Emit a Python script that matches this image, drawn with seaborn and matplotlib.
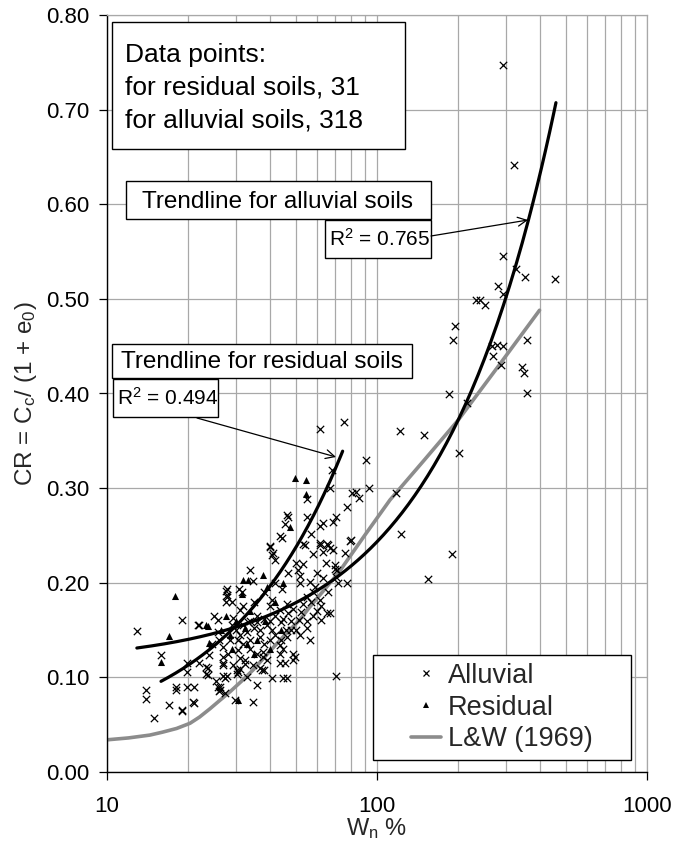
import numpy as np
import pandas as pd
import matplotlib
matplotlib.use("Agg")
import matplotlib.pyplot as plt
from matplotlib.patches import Rectangle
from matplotlib.lines import Line2D
from matplotlib.ticker import LogLocator, FixedLocator, NullFormatter
import seaborn as sns

# ---------------- data ----------------
alluvial_wn = [
    292, 321, 293, 327, 352, 458, 281, 292, 233, 240, 252, 195, 192, 358, 266, 278,
    292, 268, 287, 344, 350, 358, 184, 216, 122, 149, 201, 118, 190, 155, 123,
    90.8, 75.5, 61.5, 93.6, 81, 83.6, 86, 77.7, 70.5, 68.8, 79.5, 68.8, 76, 77.7,
    69.9, 70.9, 67, 67.9, 67, 55.1, 55, 46.9, 45.6, 43.8, 40.3, 61.5, 63.2, 57,
    53.3, 61.5, 65.7, 79.8, 70.5, 67,
    12.95, 18.9, 15.85, 21.9, 25.8, 27.6, 27.6, 13.9, 13.9, 14.9, 16.9, 18.9, 18.9,
    18.0, 18.0, 19.8, 21.0, 20.9, 21.0, 23.3, 23.7, 19.8, 19.8, 26.2, 26.2, 27.4,
    27.4, 21.8, 22, 23.9, 23.3, 23.6, 25.3, 25.8, 26, 25.8, 27, 27, 27, 27.8, 27.8,
    29.8, 30.9, 33.8, 40.1, 41.3, 41.9, 44.3, 46.5, 34.8, 35.9, 40.8, 45, 46.3,
    43.8, 48.9, 49.5, 36.8, 37.5, 30.2, 30.6, 30.2, 31, 32.5, 38, 45.6, 27, 27, 27.8,
    41, 34.8, 27.9, 31.5, 50.1, 50.8, 51.8, 54, 61.5, 65.3, 63.2, 65, 69.9, 70.5,
    44.3, 51.8, 56.6, 59, 61.5, 57.2, 65.3, 62.2, 52.5, 51.2, 48.2, 46.3, 43.8, 43.8,
    48.9, 37.9, 37.9, 40.3, 41, 43.8, 46.3, 31, 29.3, 33.2, 35.9, 33.8, 36.8, 28.5,
    30.6, 32.5, 29.3, 34.8, 54.9, 56.6,
    30, 31, 32, 33, 34, 35, 36, 37, 38, 39, 40, 41, 42, 44, 45, 47, 49, 53, 55, 58,
    60, 63, 66, 72, 29, 30.5, 32, 34, 36, 38, 40, 42, 44, 46, 48, 50, 52, 55, 58, 62,
    31, 33, 39, 45, 28, 26, 24.5, 25, 29, 32, 35, 38, 42, 47, 53, 58, 60,
]
alluvial_cr = [
    0.747, 0.641, 0.545, 0.532, 0.523, 0.521, 0.514, 0.505, 0.499, 0.499, 0.494, 0.471,
    0.457, 0.457, 0.450, 0.451, 0.450, 0.440, 0.430, 0.428, 0.422, 0.400, 0.399, 0.390,
    0.360, 0.356, 0.337, 0.295, 0.230, 0.204, 0.251,
    0.330, 0.370, 0.363, 0.300, 0.295, 0.296, 0.290, 0.280, 0.270, 0.264, 0.244, 0.235,
    0.231, 0.200, 0.219, 0.214, 0.168, 0.319, 0.300, 0.289, 0.270, 0.270, 0.262, 0.249,
    0.239, 0.260, 0.263, 0.251, 0.241, 0.240, 0.240, 0.245, 0.101, 0.237,
    0.149, 0.161, 0.124, 0.155, 0.161, 0.191, 0.180, 0.087, 0.077, 0.057, 0.071, 0.064,
    0.066, 0.090, 0.087, 0.090, 0.090, 0.074, 0.073, 0.104, 0.110, 0.106, 0.115, 0.087,
    0.090, 0.099, 0.083, 0.155, 0.115, 0.124, 0.111, 0.103, 0.096, 0.090, 0.086, 0.148,
    0.132, 0.122, 0.115, 0.193, 0.187, 0.076, 0.193, 0.214, 0.238, 0.231, 0.224, 0.247,
    0.272, 0.074, 0.092, 0.099, 0.099, 0.099, 0.125, 0.125, 0.122, 0.110, 0.108, 0.108,
    0.106, 0.104, 0.109, 0.114, 0.108, 0.115, 0.113, 0.101, 0.101,
    0.229, 0.202, 0.185, 0.190, 0.221, 0.214, 0.207, 0.240, 0.242, 0.241, 0.232, 0.221,
    0.215, 0.206, 0.193, 0.200, 0.201, 0.196, 0.182, 0.180, 0.168, 0.161, 0.169, 0.161,
    0.150, 0.143, 0.134, 0.115, 0.118, 0.127, 0.122, 0.175, 0.182, 0.171, 0.178, 0.171,
    0.163, 0.159, 0.165, 0.140, 0.143, 0.140, 0.129, 0.118, 0.113, 0.113, 0.152, 0.140,
    0.150, 0.145, 0.155, 0.148, 0.160, 0.152, 0.158, 0.150, 0.162, 0.155, 0.160, 0.150,
    0.165, 0.158, 0.162, 0.168, 0.172, 0.178, 0.185, 0.190, 0.170, 0.205, 0.190, 0.200,
    0.155, 0.140, 0.135, 0.130, 0.125, 0.135, 0.140, 0.145, 0.140, 0.150, 0.160, 0.150,
    0.145, 0.160, 0.165, 0.175, 0.120, 0.100, 0.118, 0.130, 0.125, 0.140, 0.135, 0.165,
    0.180, 0.175, 0.180, 0.190, 0.200, 0.210, 0.220, 0.230, 0.210,
]
residual_wn = [17.9, 16.9, 15.85, 23.3, 23.7, 23.9, 30.6, 31.9, 33.2, 37.7, 49.8, 54.8,
               54.4, 47.6, 31.5, 26.5, 28.5, 30, 32.5, 34, 36, 38.5, 40, 42, 44, 29, 35,
               27.5, 45, 39, 33]
residual_cr = [0.186, 0.144, 0.116, 0.155, 0.154, 0.136, 0.076, 0.203, 0.203, 0.208,
               0.311, 0.309, 0.294, 0.259, 0.188, 0.150, 0.145, 0.160, 0.152, 0.170,
               0.140, 0.160, 0.130, 0.180, 0.150, 0.130, 0.125, 0.165, 0.200, 0.195,
               0.135]
lw_wn = [10, 12, 14.4, 16, 18.1, 20.3, 22, 24.1, 26, 28.6, 31.5, 34.8, 40.2, 46, 51.8,
         56.6, 71.8, 90, 111.7, 150, 200, 280, 400]
lw_cr = [0.034, 0.036, 0.039, 0.042, 0.046, 0.0515, 0.058, 0.067, 0.075, 0.085, 0.096,
         0.108, 0.128, 0.146, 0.161, 0.175, 0.210, 0.250, 0.2875, 0.330, 0.372, 0.428,
         0.488]
# linear trendlines CR = slope * Wn + intercept, drawn over [x_from, x_to]
trend_alluvial = dict(slope=0.001289, intercept=0.1144, x_from=12.9, x_to=460)
trend_residual = dict(slope=0.00414, intercept=0.0302, x_from=15.85, x_to=74.6)

y_ticks = [0.0, 0.1, 0.2, 0.3, 0.4, 0.5, 0.6, 0.7, 0.8]
x_ticks = [10, 100, 1000]
legend_labels = ["Alluvial", "Residual", "L&W (1969)"]
info_lines = ["Data points:", "for residual soils, 31", "for alluvial soils, 318"]

# ---------------- style ----------------
sns.set_theme(style="white")
plt.rcParams['font.family'] = ['Liberation Sans', 'DejaVu Sans']
plt.rcParams['mathtext.fontset'] = 'custom'
plt.rcParams['mathtext.rm'] = 'Liberation Sans'
plt.rcParams['mathtext.it'] = 'Liberation Sans:italic'
plt.rcParams['mathtext.bf'] = 'Liberation Sans:bold'

W, H = 673, 847
AX_L, AX_R, AX_T, AX_B = 107, 647, 15, 772
fig = plt.figure(figsize=(W / 100, H / 100), dpi=100)
ax = fig.add_axes([AX_L / W, 1 - AX_B / H, (AX_R - AX_L) / W, (AX_B - AX_T) / H])


def fx(px):
    return (px - AX_L) / (AX_R - AX_L)


def fy(py):
    return (AX_B - py) / (AX_B - AX_T)


ax.set_xscale('log')
ax.set_xlim(10, 1000)
ax.set_ylim(0, 0.8)

grid_c = '#a8a8a8'
ax.xaxis.set_major_locator(FixedLocator(x_ticks))
ax.xaxis.set_minor_locator(LogLocator(base=10, subs=np.arange(2, 10)))
ax.xaxis.set_minor_formatter(NullFormatter())
ax.set_xticklabels([str(t) for t in x_ticks])
ax.set_yticks(y_ticks)
ax.set_yticklabels([f"{t:.2f}" for t in y_ticks])
ax.grid(True, which='both', axis='x', color=grid_c, lw=0.9)
ax.grid(True, which='major', axis='y', color=grid_c, lw=0.9)
ax.set_axisbelow(True)
ax.tick_params(axis='both', which='major', direction='out', length=5.5, width=0.9,
               color='black', labelsize=16, labelcolor='black')
ax.tick_params(axis='y', which='major', pad=7, left=True)
ax.tick_params(axis='x', which='major', pad=12, bottom=True)
ax.tick_params(which='minor', length=0)
for s in ['left', 'bottom']:
    ax.spines[s].set_color('black')
    ax.spines[s].set_linewidth(1.0)
for s in ['top', 'right']:
    ax.spines[s].set_color(grid_c)
    ax.spines[s].set_linewidth(0.9)

# ---------------- marks ----------------
df_all = pd.DataFrame({'Wn': alluvial_wn, 'CR': alluvial_cr})
df_res = pd.DataFrame({'Wn': residual_wn, 'CR': residual_cr})
df_lw = pd.DataFrame({'Wn': lw_wn, 'CR': lw_cr})

sns.lineplot(data=df_lw, x='Wn', y='CR', color='#8c8c8c', lw=2.6, ax=ax,
             estimator=None, sort=False, zorder=2)
sns.scatterplot(data=df_all, x='Wn', y='CR', marker='x', color='black', s=28,
                linewidth=0.9, ax=ax, legend=False, zorder=3)
sns.scatterplot(data=df_res, x='Wn', y='CR', marker='^', color='black', s=26,
                linewidth=0, ax=ax, legend=False, zorder=3)

for tr in (trend_alluvial, trend_residual):
    xs = np.geomspace(tr['x_from'], tr['x_to'], 200)
    tdf = pd.DataFrame({'Wn': xs, 'CR': tr['slope'] * xs + tr['intercept']})
    sns.lineplot(data=tdf, x='Wn', y='CR', color='black', lw=2.3, ax=ax,
                 estimator=None, sort=False, zorder=4)

ax.set_xlim(10, 1000)
ax.set_ylim(0, 0.8)
ax.set_xlabel(r"W$_\mathregular{n}$ %", fontsize=17)
ax.set_ylabel(r"CR = C$_\mathregular{c}$/ (1 + e$_\mathregular{0}$)", fontsize=17.5)
ax.xaxis.set_label_coords(0.5, fy(816))
ax.yaxis.set_label_coords(fx(39), 0.5)


# ---------------- boxes & annotations ----------------
def box(x0, y0, x1, y1):
    r = Rectangle((fx(x0), fy(y1)), fx(x1) - fx(x0), fy(y0) - fy(y1),
                  transform=ax.transAxes, facecolor='white', edgecolor='black',
                  lw=1.0, clip_on=False, zorder=6)
    ax.add_patch(r)


def txt(px, py, s, size, ha='left'):
    ax.text(fx(px), fy(py), s, transform=ax.transAxes, fontsize=size, ha=ha,
            va='baseline', color='black', zorder=7)


box(112, 22, 405, 149)
for i, line in enumerate(info_lines):
    txt(125, 62 + i * 32.7, line, 19)

box(126, 181, 431, 219)
txt(278, 208.5, "Trendline for alluvial soils", 17.5, ha='center')
box(325, 220, 431, 258)
txt(329, 246, r"R$^2$ = 0.765", 15)

box(112, 344, 412, 378)
txt(262, 368.5, "Trendline for residual soils", 17.5, ha='center')
box(113, 379, 218, 417)
txt(117, 405, r"R$^2$ = 0.494", 15)

arrow = dict(arrowstyle='->', lw=0.9, color='black', mutation_scale=16,
             shrinkA=0, shrinkB=0)
ax.annotate('', xy=(fx(528), fy(220)), xytext=(fx(431), fy(236)),
            xycoords='axes fraction', textcoords='axes fraction',
            arrowprops=arrow, zorder=7)
ax.annotate('', xy=(fx(336), fy(457)), xytext=(fx(197), fy(418)),
            xycoords='axes fraction', textcoords='axes fraction',
            arrowprops=arrow, zorder=7)

# legend
box(373, 655, 631, 760)
handles = [
    Line2D([], [], marker='x', ls='none', color='black', markersize=4.5, mew=0.9),
    Line2D([], [], marker='^', ls='none', color='black', markersize=4.5, mew=0),
    Line2D([], [], color='#8c8c8c', lw=2.6),
]
leg = ax.legend(handles, legend_labels, loc='center',
                bbox_to_anchor=(fx(502), fy(707.5)), bbox_transform=ax.transAxes,
                frameon=False, fontsize=19.5, handlelength=1.1, handletextpad=0.25,
                labelspacing=0.22, borderpad=0, borderaxespad=0)
leg.set_zorder(8)

fig.savefig('out.png', dpi=100)
